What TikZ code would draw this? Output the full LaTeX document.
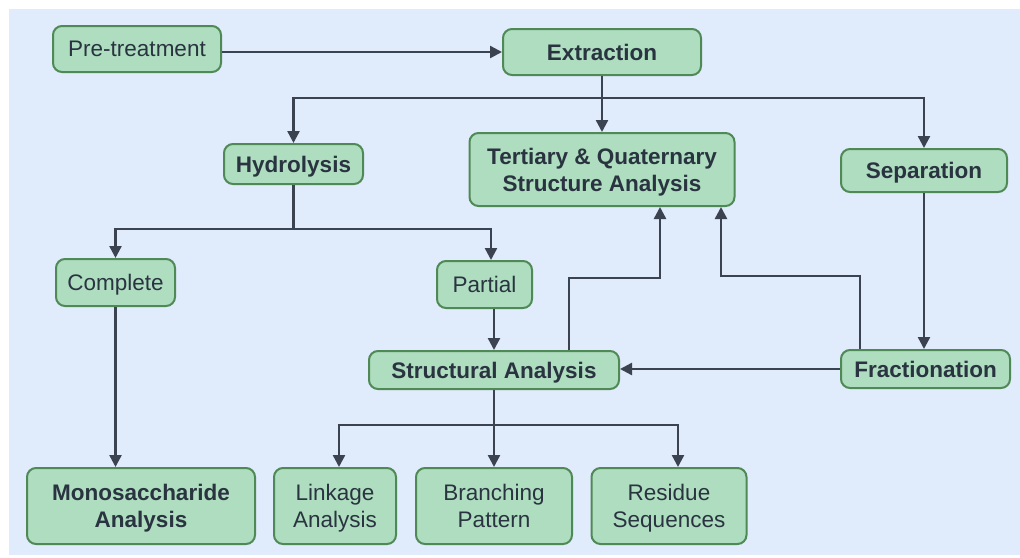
\documentclass[tikz,border=0pt]{standalone}
\usepackage{fontspec}
\setmainfont{Liberation Sans}
\usetikzlibrary{arrows.meta}
\definecolor{bg}{HTML}{E0EBFB}
\definecolor{boxfill}{HTML}{AEDDC0}
\definecolor{boxline}{HTML}{4F8A56}
\definecolor{ink}{HTML}{2A3340}
\definecolor{arrowc}{HTML}{3B4250}
\begin{document}
\begin{tikzpicture}[x=1pt,y=-1pt,
  box/.style={draw=boxline, line width=2pt, fill=boxfill, rounded corners=9pt, align=center, text=ink, font=\fontsize{22.5}{27}\selectfont, inner sep=0pt, text depth=0pt},
  bbox/.style={box, font=\fontsize{22.5}{27}\selectfont\bfseries},
  arr/.style={draw=arrowc, line width=2.4pt, -{Triangle[length=12pt,width=12pt]}},
  ln/.style={draw=arrowc, line width=2.4pt}]
\useasboundingbox (0,0) rectangle (1020,557);
\fill[bg] (9,9) rectangle (1020,555);
% nodes
\node[box, minimum width=168pt, minimum height=46pt] (pre) at (137,49) {Pre-treatment};
\node[bbox, minimum width=198pt, minimum height=46pt] (ext) at (602,52) {Extraction};
\node[bbox, minimum width=139pt, minimum height=40pt] (hyd) at (293.5,164) {Hydrolysis};
\node[bbox, minimum width=265pt, minimum height=73pt] (ter) at (602,169.5) {Tertiary \& Quaternary\\Structure Analysis};
\node[bbox, minimum width=166pt, minimum height=43pt] (sep) at (924,170.5) {Separation};
\node[box, minimum width=119pt, minimum height=47pt] (com) at (115.5,282.5) {Complete};
\node[box, minimum width=95pt, minimum height=47pt] (par) at (484.5,284.5) {Partial};
\node[bbox, minimum width=250pt, minimum height=38pt] (sa) at (494,370) {Structural Analysis};
\node[bbox, minimum width=169pt, minimum height=38pt] (fra) at (925.5,369) {Fractionation};
\node[bbox, minimum width=228pt, minimum height=76pt] (mono) at (141,506) {Monosaccharide\\Analysis};
\node[box, minimum width=122pt, minimum height=76pt] (link) at (335,506) {Linkage\\Analysis};
\node[box, minimum width=156pt, minimum height=76pt] (bra) at (494,506) {Branching\\Pattern};
\node[box, minimum width=155pt, minimum height=76pt] (res) at (669,506) {Residue\\Sequences};
% junction coordinates
\coordinate (j1) at (602,98);
\coordinate (j2) at (293.5,229);
\coordinate (p1) at (491,229);
\coordinate (j3) at (494,425);
\coordinate (l1) at (339,425);
\coordinate (r1) at (678,425);
\coordinate (a1) at (569,278);
\coordinate (t1) at (660,207);
\coordinate (f1) at (860,276);
\coordinate (t2) at (721,207);
% connectors
\draw[arr] (pre.east |- ext.west) -- (ext.west);
\draw[arr] (ext.south) -- (ter.north);
\draw[arr] (j1) -| (hyd.north);
\draw[arr] (j1) -| (sep.north);
\draw[ln] (hyd.south) -- (j2);
\draw[arr] (j2) -| (com.north);
\draw[arr] (j2) -- (p1) -- (p1 |- par.north);
\draw[arr] (com.south) -- (com.south |- mono.north);
\draw[arr] (par.south -| sa.north) -- (sa.north);
\draw[arr] (sep.south) -- (sep.south |- fra.north);
\draw[arr] (fra.west) -- (fra.west -| sa.east);
\draw[arr] (sa.north -| a1) -- (a1) -| (t1);
\draw[arr] (fra.north -| f1) -- (f1) -| (t2);
\draw[arr] (sa.south) -- (bra.north);
\draw[arr] (j3) -- (l1) -- (l1 |- link.north);
\draw[arr] (j3) -- (r1) -- (r1 |- res.north);
\end{tikzpicture}
\end{document}
